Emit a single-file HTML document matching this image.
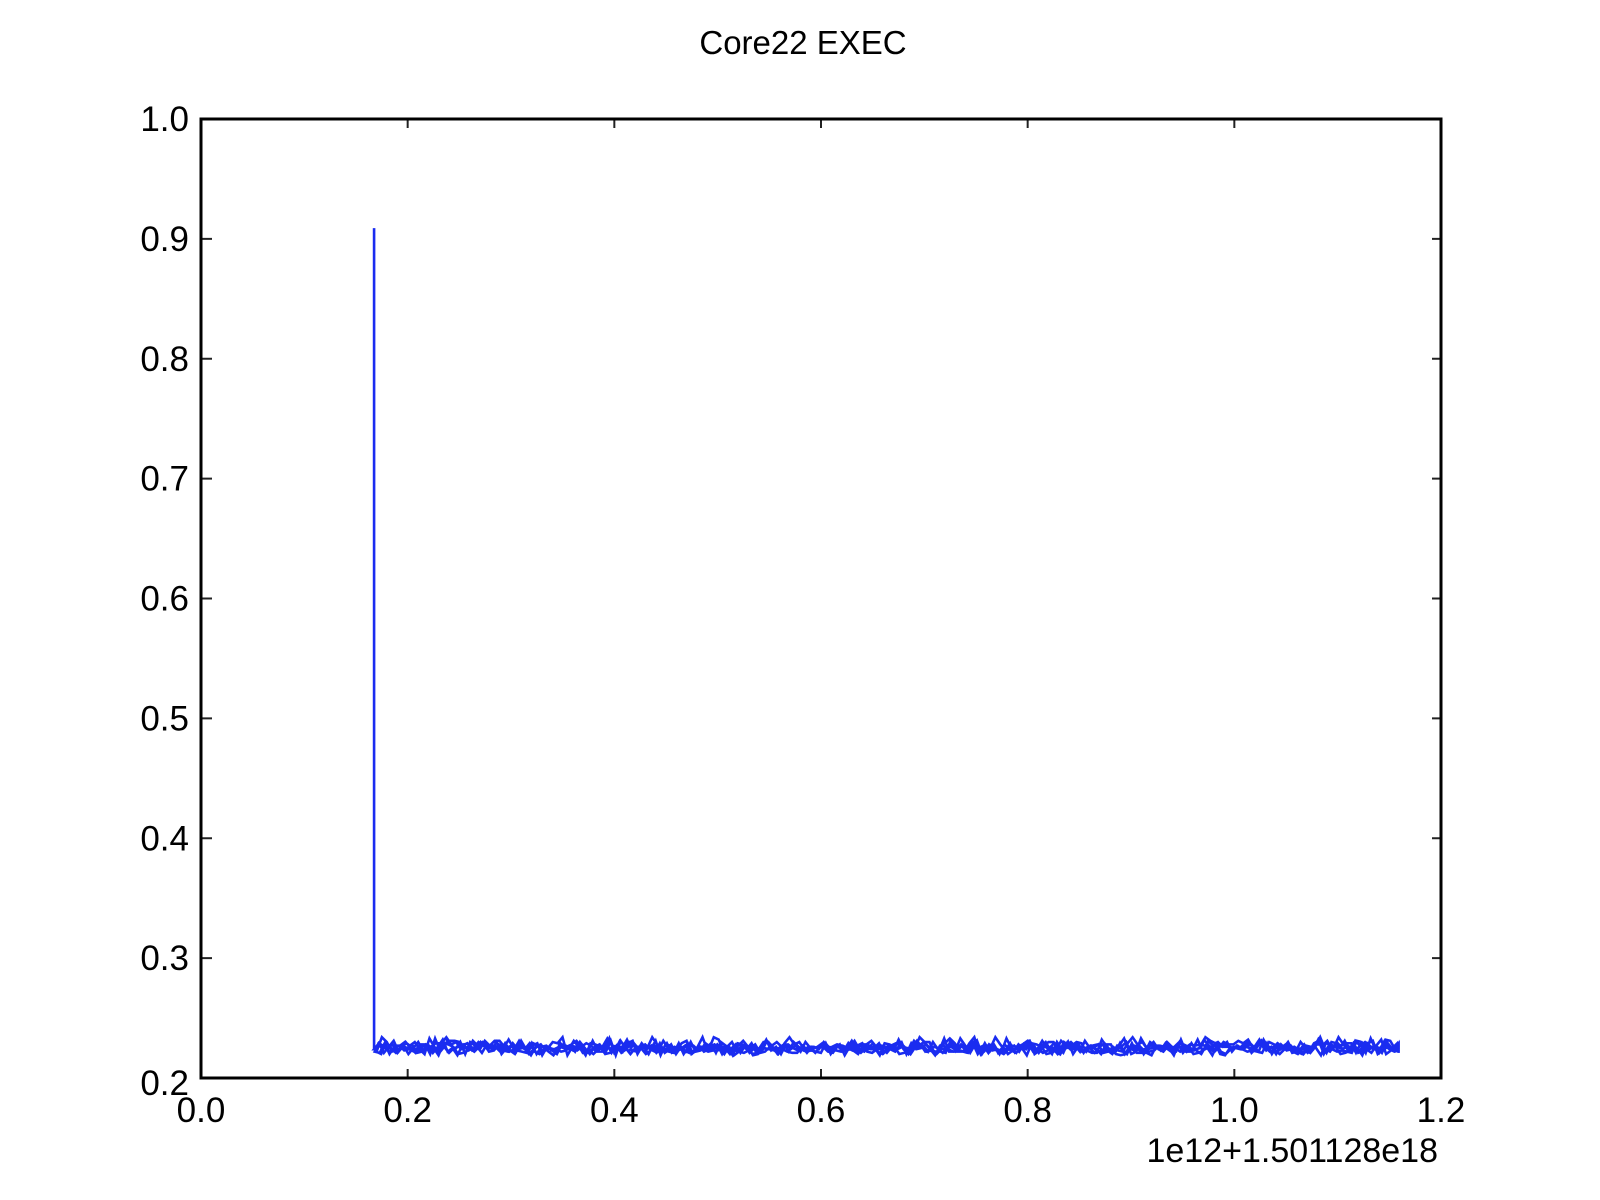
<!DOCTYPE html>
<html><head><meta charset="utf-8"><style>
html,body{margin:0;padding:0;background:#fff;}
svg{display:block;font-family:"Liberation Sans",sans-serif;}
</style></head><body>
<svg id="chart" width="1600" height="1200">
<text x="803" y="54" text-anchor="middle" font-size="33">Core22 EXEC</text>
<g id="axes"></g>
<g id="series"></g>
<text x="1438" y="1162" text-anchor="end" font-size="34">1e12+1.501128e18</text>
</svg>
<script>
const xTicks=[0.0,0.2,0.4,0.6,0.8,1.0,1.2];
const xTickLabels=["0.0","0.2","0.4","0.6","0.8","1.0","1.2"];
const yTicks=[0.2,0.3,0.4,0.5,0.6,0.7,0.8,0.9,1.0];
const yTickLabels=["0.2","0.3","0.4","0.5","0.6","0.7","0.8","0.9","1.0"];
const spikeX=0.1675, spikeY=0.909;
const startX=0.1675, endX=1.159;
const noiseValues=[0.224,0.229,0.221,0.226,0.231,0.222,0.227,0.220,0.225,0.230,0.223,0.228,0.221,0.226,0.232,0.222,0.225,0.219,0.227,0.229,
0.223,0.226,0.221,0.228,0.224,0.230,0.220,0.225,0.227,0.222,0.231,0.224,0.219,0.226,0.228,0.223,0.225,0.221,0.229,0.224,
0.227,0.222,0.230,0.225,0.220,0.226,0.228,0.223,0.233,0.221,0.225,0.227,0.222,0.229,0.224,0.226,0.220,0.228,0.223,0.231,
0.225,0.222,0.227,0.224,0.229,0.221,0.226,0.234,0.223,0.225,0.228,0.220,0.226,0.230,0.222,0.227,0.224,0.229,0.221,0.225,
0.232,0.223,0.226,0.220,0.228,0.224,0.227,0.222,0.230,0.225,0.221,0.226,0.229,0.223,0.225,0.228,0.219,0.226,0.231,0.224,
0.222,0.227,0.225,0.229,0.221,0.226,0.223,0.232,0.224,0.220,0.228,0.225,0.227,0.222,0.230,0.224,0.221,0.226,0.229,0.223,
0.227,0.222,0.225,0.231,0.220,0.226,0.228,0.224,0.222,0.233,0.225,0.221,0.227,0.224,0.229,0.222,0.226,0.230,0.223,0.225,
0.220,0.228,0.224,0.227,0.222,0.231,0.225,0.221,0.226,0.229,0.224,0.222,0.227,0.233,0.223,0.225,0.228,0.220,0.226,0.230,
0.224,0.222,0.227,0.225,0.229,0.221,0.226,0.224,0.232,0.223,0.225,0.219,0.228,0.226,0.230,0.222,0.227,0.224,0.229,0.221,
0.225,0.231,0.223,0.226,0.220,0.228,0.224,0.227,0.222,0.230,0.225,0.221,0.226,0.234,0.224,0.222,0.228,0.225,0.231,0.223,
0.227,0.222,0.229,0.224,0.226,0.221,0.230,0.225,0.223,0.228];
const X0=201,X1=1441,Y0=1078,Y1=119;
const xs=v=>X0+(v-0)/1.2*(X1-X0);
const ys=v=>Y0-(v-0.2)/0.8*(Y0-Y1);
const NS="http://www.w3.org/2000/svg";
const axes=document.getElementById('axes');
function mk(tag,attrs,parent){const e=document.createElementNS(NS,tag);for(const k in attrs)e.setAttribute(k,attrs[k]);parent.appendChild(e);return e;}
xTicks.forEach((t,i)=>{
  const x=xs(t);
  if(i>0&&i<xTicks.length-1){
    const a=mk('line',{x1:x,x2:x,y1:Y0,y2:Y0-9,stroke:'#222','stroke-width':2},axes);
    
    
    const b=mk('line',{x1:x,x2:x,y1:Y1,y2:Y1+9,stroke:'#222','stroke-width':2},axes);
    
    
  }
  const l=mk('text',{x:x,y:1122,'text-anchor':'middle','font-size':35},axes);
  l.textContent=xTickLabels[i];
  
  
});
yTicks.forEach((t,i)=>{
  const y=ys(t);
  if(i>0&&i<yTicks.length-1){
    const a=mk('line',{x1:X0,x2:X0+11,y1:y,y2:y,stroke:'#222','stroke-width':2},axes);
    
    
    const b=mk('line',{x1:X1,x2:X1-9,y1:y,y2:y,stroke:'#222','stroke-width':2},axes);
    
    
  }
  const l=mk('text',{x:189,y:y+(i==0?17:12),'text-anchor':'end','font-size':35},axes);
  l.textContent=yTickLabels[i];
  
  
});
const frame=mk('rect',{x:X0,y:Y1,width:X1-X0,height:Y0-Y1,fill:'none',stroke:'#000','stroke-width':3},axes);


const ser=document.getElementById('series');
const n=noiseValues.length;
let d='M'+xs(spikeX)+','+ys(spikeY)+' L'+xs(startX)+','+ys(noiseValues[0]);
const mults=[1,7,13,29,47,3];
mults.forEach((m,pi)=>{
  for(let k=0;k<n;k++){
    const i=(pi%2==0)?k:(n-1-k);
    const j=(i*m+pi*5)%n;
    const x=xs(startX+(endX-startX)*i/(n-1)+(pi*0.0007));
    d+=' L'+Math.min(x,xs(endX)).toFixed(2)+','+ys(noiseValues[j]).toFixed(2);
  }
});
const p=mk('path',{d:d,fill:'none',stroke:'#1a2cf0','stroke-width':2.6,'stroke-linejoin':'miter'},ser);


</script>
</body></html>
